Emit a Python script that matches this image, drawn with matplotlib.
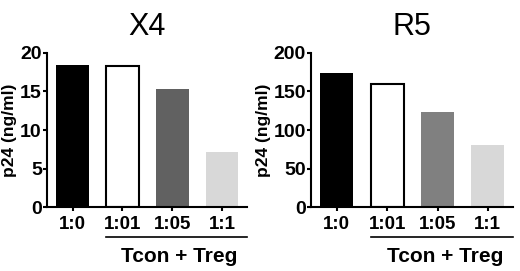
import numpy as np
import matplotlib.pyplot as plt
from matplotlib.transforms import blended_transform_factory

plt.rcParams['font.family'] = ['Liberation Sans', 'DejaVu Sans']

# data
groups = ['1:0', '1:01', '1:05', '1:1']
x4_vals = [18.4, 18.3, 15.3, 7.2]
r5_vals = [174, 160, 123, 80]
titles = ['X4', 'R5']
ylims = [20, 200]
yticks = [[0, 5, 10, 15, 20], [0, 50, 100, 150, 200]]
group_label = 'Tcon + Treg'

colors_left = ['black', 'white', '#616161', '#d8d8d8']
colors_right = ['black', 'white', '#808080', '#d8d8d8']

fig = plt.figure(figsize=(5.2, 2.71), dpi=100)
ax1 = fig.add_axes([0.0898, 0.235, 0.385, 0.5705])
ax2 = fig.add_axes([0.5975, 0.235, 0.389, 0.5705])

for ax, vals, cols, title, ymax, yt in zip([ax1, ax2], [x4_vals, r5_vals],
                                          [colors_left, colors_right], titles,
                                          ylims, yticks):
    x = np.arange(len(groups))
    edges = ['none', 'black', 'none', 'none']
    for i in range(len(groups)):
        ax.bar(x[i], vals[i], width=0.66, color=cols[i], edgecolor=edges[i],
               linewidth=1.5 if edges[i] != 'none' else 0, zorder=2)
    ax.set_xlim(-0.52, 3.5)
    ax.set_ylim(0, ymax)
    ax.set_yticks(yt)
    ax.set_xticks(x)
    ax.set_xticklabels(groups, fontsize=13.5, fontweight='bold')
    ax.tick_params(axis='x', length=3, width=1.5, pad=3)
    ax.tick_params(axis='y', length=3, width=1.5, labelsize=14, pad=0.5)
    for lab in ax.get_yticklabels():
        lab.set_fontweight('bold')
    ax.spines['top'].set_visible(False)
    ax.spines['right'].set_visible(False)
    ax.spines['left'].set_linewidth(1.5)
    ax.spines['bottom'].set_linewidth(1.5)
    ax.set_ylabel('p24 (ng/ml)', fontsize=12.5, fontweight='bold', labelpad=2)
    ax.set_title(title, fontsize=22, pad=13)

    trans = blended_transform_factory(ax.transData, ax.transAxes)
    ax.plot([0.67, 3.5], [-0.195, -0.195], color='black', lw=1.2,
            transform=trans, clip_on=False)
    ax.text(2.15, -0.32, group_label, transform=trans, ha='center', va='center',
            fontsize=15, fontweight='bold')

fig.savefig('out.png', dpi=100)
